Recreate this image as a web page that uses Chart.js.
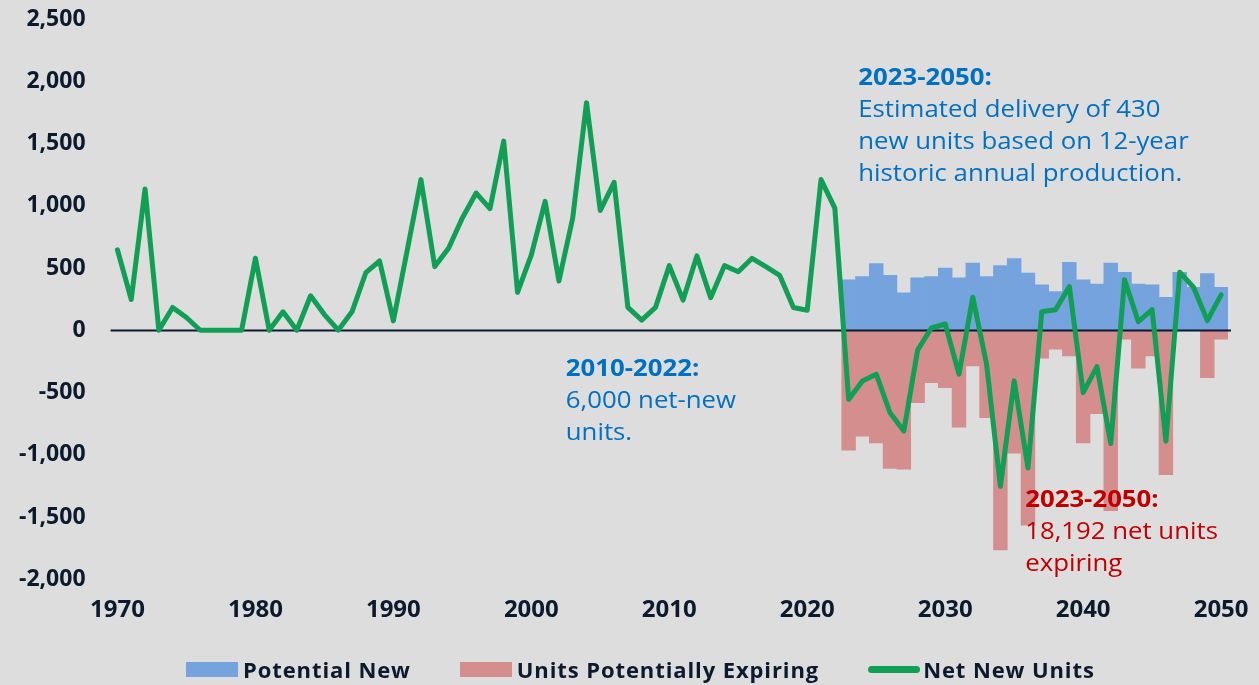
<!DOCTYPE html>
<html>
<head>
<meta charset="utf-8">
<script src="https://cdn.jsdelivr.net/npm/chart.js@4.4.0/dist/chart.umd.min.js"></script>
<style>
  html, body { margin: 0; padding: 0; background: #dddddd; }
  #wrap { width: 1259px; height: 685px; position: relative; }
  #legend {
    position: absolute; left: 186px; top: 654px; height: 30px;
    display: flex; align-items: center;
    font-family: 'Open Sans', sans-serif; font-weight: bold; font-size: 22px;
    letter-spacing: 0.9px; color: #0b1a2c; white-space: nowrap;
  }
  #legend .item { display: flex; align-items: center; margin-right: 49px; }
  #legend .swatch { width: 52px; height: 15px; margin-right: 5px; }
  #legend .swatch.line { height: 7px; border-radius: 4px; margin-right: 3px; }
</style>
</head>
<body>
<div id="wrap">
  <canvas id="myChart"></canvas>
  <div id="legend"></div>
</div>
<script>
// years on the category axis, 1970 - 2050
const years = [];
for (let y = 1970; y <= 2050; y++) years.push(y);

// net new units per year (history + projection)
const netNewUnits = [
  645, 247, 1135, 0, 183, 102, 0, 0, 0, 0,            // 1970s
  578, 0, 148, 0, 277, 126, 0, 148, 462, 556,         // 1980s
  75, 640, 1210, 511, 659, 901, 1102, 976, 1519, 304, // 1990s
  605, 1035, 395, 901, 1828, 962, 1188, 183, 81, 183, // 2000s
  519, 242, 597, 261, 519, 470, 578, 511, 441, 183,   // 2010s
  161, 1210, 981,                                     // 2020-2022
  -556, -407, -353, -663, -810, -160, 18, 50, -353, 265, -273, -1254, -407, -1106,
  149, 165, 351, -501, -292, -910, 405, 69, 165, -891, 466, 345, 77, 284
];

// projection years 2023 - 2050
const potentialNew = [
  405, 430, 535, 440, 300, 420, 430, 500, 420, 540, 430, 520, 575, 460,
  365, 310, 545, 405, 370, 540, 465, 370, 365, 265, 465, 345, 455, 345
];
const unitsExpiring = [
  -964, -851, -905, -1111, -1117, -582, -421, -461, -778, -286, -703, -1765, -988, -1565,
  -224, -152, -206, -905, -671, -1450, -71, -305, -206, -1160, 0, 0, -381, -71
];

const yTicks = { min: -2000, max: 2500, step: 500 };

const firstProjected = years.indexOf(2023);
const pad = new Array(firstProjected).fill(null);

const navy = "#0b1a2c";
const font = "'Open Sans', sans-serif";

// text notes, anchored on axis values (x = category index)
const notes = [
  { at: 53.7, value: 2020, color: "#0070c0",
    lines: ["2023-2050:", "Estimated delivery of 430", "new units based on 12-year", "historic annual production."] },
  { at: 32.5, value: -319, color: "#0070c0",
    lines: ["2010-2022:", "6,000 net-new", "units."] },
  { at: 65.8, value: -1367, color: "#c00000",
    lines: ["2023-2050:", "18,192 net units", "expiring"] }
];

// zero line goes over the bars but under the green line
const zeroLine = {
  id: "zeroLine",
  afterDatasetDraw(chart, args) {
    if (args.index !== 0) return;
    const { ctx, chartArea } = chart;
    const y0 = Math.round(chart.scales.y.getPixelForValue(0)) + 0.5;
    ctx.save();
    ctx.strokeStyle = navy;
    ctx.lineWidth = 2;
    ctx.beginPath();
    ctx.moveTo(chartArea.left, y0);
    ctx.lineTo(chartArea.right + 3, y0);
    ctx.stroke();
    ctx.restore();
  }
};

const noteText = {
  id: "noteText",
  afterDraw(chart) {
    const { ctx } = chart;
    const xs = chart.scales.x, ys = chart.scales.y;
    notes.forEach(n => {
      const x = xs.getPixelForValue(n.at);
      const y = ys.getPixelForValue(n.value);
      n.lines.forEach((t, i) => {
        ctx.save();
        ctx.translate(x, y + i * 32);
        ctx.scale(1.12, 1); // slightly wide lettering
        ctx.textBaseline = "middle";
        ctx.textAlign = "left";
        ctx.fillStyle = n.color;
        ctx.font = (i === 0 ? "bold " : "") + "23px " + font;
        ctx.fillText(t, 0, 0);
        ctx.restore();
      });
    });
  }
};

// legend built as html under the plot
const htmlLegend = {
  id: "htmlLegend",
  afterUpdate(chart) {
    const box = document.getElementById("legend");
    box.innerHTML = "";
    chart.data.datasets.forEach(ds => {
      const item = document.createElement("div");
      item.className = "item";
      const sw = document.createElement("span");
      const isLine = ds.type === "line";
      sw.className = isLine ? "swatch line" : "swatch";
      sw.style.background = isLine ? ds.borderColor : ds.backgroundColor;
      const txt = document.createElement("span");
      txt.textContent = ds.label;
      item.appendChild(sw);
      item.appendChild(txt);
      box.appendChild(item);
    });
  }
};

const data = {
  labels: years,
  datasets: [
    {
      type: "bar",
      label: "Potential New",
      data: pad.concat(potentialNew),
      backgroundColor: "#74a3de",
      borderWidth: 0,
      categoryPercentage: 1,
      barPercentage: 1,
      order: 1
    },
    {
      type: "bar",
      label: "Units Potentially Expiring",
      data: pad.concat(unitsExpiring),
      backgroundColor: "#d48e8e",
      borderWidth: 0,
      categoryPercentage: 1,
      barPercentage: 1,
      order: 1
    },
    {
      type: "line",
      label: "Net New Units",
      data: netNewUnits,
      borderColor: "#119f55",
      borderWidth: 5,
      borderJoinStyle: "round",
      borderCapStyle: "round",
      pointRadius: 0,
      tension: 0,
      order: 0
    }
  ]
};

const config = {
  type: "bar",
  data: data,
  options: {
    responsive: true,
    maintainAspectRatio: false,
    animation: false,
    layout: { padding: { top: 0, right: 31, left: -6, bottom: 43 } },
    plugins: {
      tooltip: { enabled: false },
      legend: { display: false }
    },
    scales: {
      x: {
        type: "category",
        offset: true,
        stacked: true,
        grid: { display: false, drawTicks: false },
        border: { display: false },
        afterFit(scale) {
          scale.paddingLeft = 0;
          scale.paddingRight = 0;
        },
        ticks: {
          autoSkip: false,
          maxRotation: 0,
          padding: 17,
          color: navy,
          font: { family: font, weight: "bold", size: 24 },
          callback(v, i) {
            return years[i] % 10 === 0 ? String(years[i]) : "";
          }
        }
      },
      y: {
        min: yTicks.min,
        max: yTicks.max,
        grid: { display: false, drawTicks: false },
        border: { display: false },
        afterFit(scale) {
          scale.paddingTop = 19;
          scale.paddingBottom = 0;
        },
        ticks: {
          stepSize: yTicks.step,
          padding: 25,
          color: navy,
          font: { family: font, weight: "bold", size: 23 },
          callback: v => v.toLocaleString("en-US")
        }
      }
    }
  },
  plugins: [zeroLine, noteText, htmlLegend]
};

const myChart = new Chart(document.getElementById("myChart"), config);
</script>
</body>
</html>
